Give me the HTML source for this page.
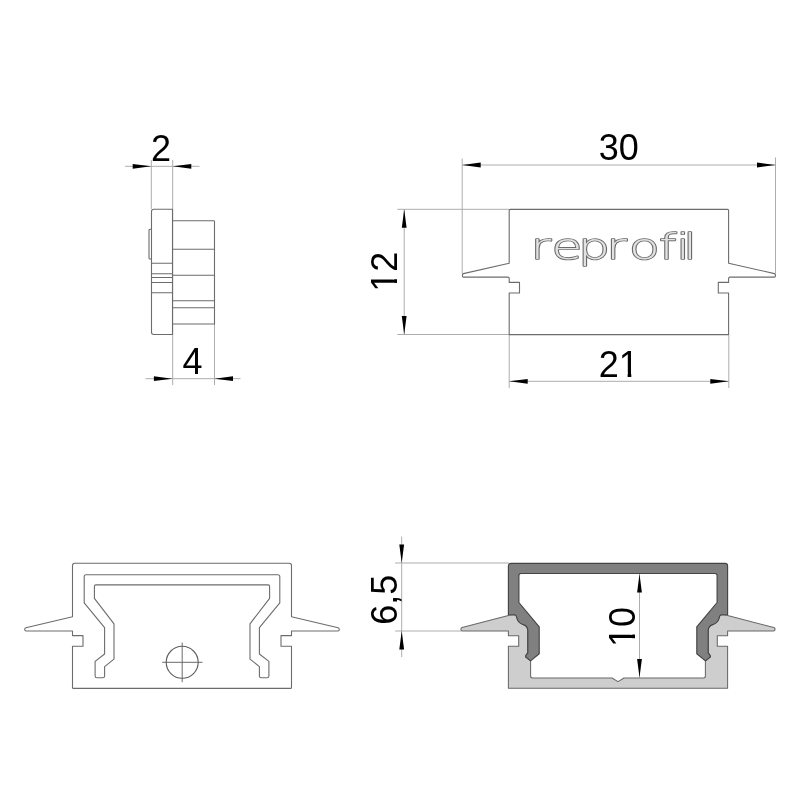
<!DOCTYPE html>
<html>
<head>
<meta charset="utf-8">
<title>reprofil end cap drawing</title>
<style>
html,body{margin:0;padding:0;background:#fff;}
body{width:800px;height:800px;overflow:hidden;}
svg{display:block;filter:grayscale(1);}
.o{fill:none;stroke:#6c6c6c;stroke-width:1.1;stroke-linejoin:round;stroke-linecap:round;}
.t{fill:none;stroke:#adadad;stroke-width:1;}
.a{fill:#000;stroke:none;}
.n{font-family:"Liberation Sans",Arial,sans-serif;font-size:36px;fill:#000;text-anchor:middle;}
.dk{fill:#808080;stroke:#444;stroke-width:1.15;stroke-linejoin:round;}
.lt{fill:#cecece;stroke:#686868;stroke-width:1.05;stroke-linejoin:round;}
.logo{font-family:"DejaVu Sans Light","Liberation Sans",sans-serif;font-weight:200;font-size:36px;fill:#e2e2e2;stroke:#6a6a6a;stroke-width:2;vector-effect:non-scaling-stroke;paint-order:stroke fill;stroke-linejoin:round;}
</style>
</head>
<body>
<svg width="800" height="800" viewBox="0 0 800 800">
<rect width="800" height="800" fill="#fff"/>

<!-- view 1 : side -->
<g id="v1">
<path class="t" d="M151.3 160V209M172.7 160V385M214.5 324V385M125 166.3H199.5M145.5 378.7H240.5"/>
<path class="o" d="M172.5 209.3H153.7Q151.5 209.3 151.5 211.5V332.3Q151.5 334.5 153.7 334.5H172.5Z"/>
<path class="o" d="M151.5 229.2H150Q149 229.2 149 230.2V258Q149 259 150 259H151.5"/>
<path class="o" d="M151.5 263.3H172.5M151.5 273.7H172.5M151.5 277.5H172.5M151.5 282.5H172.5M151.5 292.8H172.5"/>
<path class="o" d="M172.5 220.8H213.7Q214.5 220.8 214.5 221.6V324H172.5"/>
<path class="o" d="M172.5 249.3H214.5M172.5 275.2H214.5M172.5 300.8H214.5M172.5 307.8H214.5"/>
<path class="a" d="M151.2 166.3L132.7 163.9V168.7ZM172.8 166.3L191.3 163.9V168.7Z"/>
<path class="a" d="M172.4 378.7L153.9 376.3V381.1ZM214.5 378.7L233 376.3V381.1Z"/>
<text class="n" x="161.1" y="161">2</text>
<text class="n" x="192.5" y="374.2">4</text>
</g>

<!-- view 2 : front -->
<g id="v2">
<path class="t" d="M462.2 158.5V273.5M775.5 157.5V273.5M462.2 165H775.5M397.3 209.3H509M397.3 334.5H509M404.2 209.3V334.5M509.2 334.6V388M728.8 334.6V388M509.2 381.3H728.8"/>
<path class="o" d="M618.9 209.4L510.2 209.4Q509.2 209.4 509.2 210.4L509.2 263.2L463.4 273.6Q462.3 273.9 462.3 275.4Q462.3 277.1 463.6 277.1L507.8 277.1Q509.2 277.1 509.2 278.4L509.2 282.4L519.5 282.4L519.5 293L509.2 293L509.2 334.6L618.9 334.6L728.6 334.6L728.6 293L718.3 293L718.3 282.4L728.6 282.4L728.6 278.4Q728.6 277.1 730 277.1L774.2 277.1Q775.5 277.1 775.5 275.4Q775.5 273.9 774.4 273.6L728.6 263.2L728.6 210.4Q728.6 209.4 727.6 209.4L618.9 209.4Z"/>
<text class="logo" transform="scale(1.4 1)" y="259.3" x="378.92 394.01 412.77 432.99 449.35 470.59 482.93 487.90">reprofil</text>
<path class="a" d="M462.2 165L480.7 162.6V167.4ZM775.5 165L757 162.6V167.4Z"/>
<path class="a" d="M509.2 381.3L527.7 378.9V383.7ZM728.8 381.3L710.3 378.9V383.7Z"/>
<path class="a" d="M404.2 209.3L401.8 227.8H406.6ZM404.2 334.5L401.8 316H406.6Z"/>
<text class="n" x="618.8" y="159.8">30</text>
<g transform="translate(618.8 377.2)"><text class="n">21</text><rect x="1.20" y="-4.4" width="7.6" height="5.4" fill="#fff"/><rect x="12.50" y="-4.4" width="7.6" height="5.4" fill="#fff"/></g>
<g transform="translate(397 271.7) rotate(-90)"><text class="n">12</text><rect x="-18.82" y="-4.4" width="7.6" height="5.4" fill="#fff"/><rect x="-7.52" y="-4.4" width="7.6" height="5.4" fill="#fff"/></g>
</g>

<!-- view 3 : back -->
<g id="v3">
<path class="o" d="M182 563.3L74.7 563.3Q72.5 563.3 72.5 565.5L72.5 616.8L25.9 627.7Q24.7 628 24.7 629.5Q24.7 631 26.1 631L72.5 631L72.5 635.6L83 635.6L83 646.3L72.5 646.3L72.5 687.4Q72.5 688.4 73.5 688.4L182 688.4L290.5 688.4Q291.5 688.4 291.5 687.4L291.5 646.3L281 646.3L281 635.6L291.5 635.6L291.5 631L337.9 631Q339.3 631 339.3 629.5Q339.3 628 338.1 627.7L291.5 616.8L291.5 565.5Q291.5 563.3 289.3 563.3L182 563.3Z"/>
<path class="o" d="M182 574.7L86.2 574.7Q84.2 574.7 84.2 576.7L84.2 602.9L104.6 627.6L104.6 654L95.1 661.4L95.1 676Q95.1 677.8 96.9 677.8L102.8 677.8Q104.6 677.8 104.6 676L104.6 666.6L114 659.1L114 623.8L94.4 598.4L94.4 586.4Q94.4 584.9 95.9 584.9L182 584.9L268.1 584.9Q269.6 584.9 269.6 586.4L269.6 598.4L250 623.8L250 659.1L259.4 666.6L259.4 676Q259.4 677.8 261.2 677.8L267.1 677.8Q268.9 677.8 268.9 676L268.9 661.4L259.4 654L259.4 627.6L279.8 602.9L279.8 576.7Q279.8 574.7 277.8 574.7L182 574.7Z"/>
<circle class="o" cx="182.2" cy="662.3" r="16" style="stroke:#5e5e5e"/>
<path d="M162.2 662.3H202.5M182.2 642.5V682.2" fill="none" stroke="#5a5a5a" stroke-width="0.9"/>
</g>

<!-- view 4 : section -->
<g id="v4">
<path class="t" d="M401.7 536.6V657M395 563H509M395 631H461.5M639.5 574V677.5"/>
<path class="lt" d="M618 688.3L508.4 688.3L508.4 646.3L518.7 646.3L518.7 635.8L508.4 635.8L508.4 630.9L462.2 630.9Q460.9 630.9 460.9 629.3Q460.9 627.9 462.1 627.6L508.4 615.6L514.8 614.7Q516.4 615 516.9 618Q517.8 622.5 522.5 624.3Q527.8 626 527.8 630.5L527.8 652.8Q525.6 655 525.6 656.9L530.6 660.9L530.6 676Q530.6 678 532.6 678L612 678L618 681.6L624 678L703.4 678Q705.4 678 705.4 676L705.4 660.9L710.4 656.9Q710.4 655 708.2 652.8L708.2 630.5Q708.2 626 713.5 624.3Q718.2 622.5 719.1 618Q719.6 615 721.2 614.7L727.6 615.6L773.9 627.6Q775.1 627.9 775.1 629.3Q775.1 630.9 773.8 630.9L727.6 630.9L727.6 635.8L717.3 635.8L717.3 646.3L727.6 646.3L727.6 688.3L618 688.3Z"/>
<path class="dk" d="M618 563.4L510.9 563.4Q508.4 563.4 508.4 565.9L508.4 614.5L514.8 614.7Q516.4 615 516.9 618Q517.8 622.5 522.5 624.3Q527.8 626 527.8 630.5L527.8 652.8Q525.6 655 525.6 656.9L530.6 660.9L539.2 653.8L539.2 626.8L518.9 602.5L518.9 575.6Q518.9 573.5 521 573.5L618 573.5L715 573.5Q717.1 573.5 717.1 575.6L717.1 602.5L696.8 626.8L696.8 653.8L705.4 660.9L710.4 656.9Q710.4 655 708.2 652.8L708.2 630.5Q708.2 626 713.5 624.3Q718.2 622.5 719.1 618Q719.6 615 721.2 614.7L727.6 614.5L727.6 565.9Q727.6 563.4 725.1 563.4L618 563.4Z"/>
<path class="a" d="M401.7 563L399.3 544.5H404.1ZM401.7 631L399.3 649.5H404.1Z"/>
<path class="a" d="M639.5 574L637.1 592.5H641.9ZM639.5 677.5L637.1 659H641.9Z"/>
<text class="n" transform="translate(397 599.7) rotate(-90)">6,5</text>
<g transform="translate(634.6 627) rotate(-90)"><text class="n">10</text><rect x="-18.82" y="-4.4" width="7.6" height="5.4" fill="#fff"/><rect x="-7.52" y="-4.4" width="7.6" height="5.4" fill="#fff"/></g>
</g>
</svg>
</body>
</html>
